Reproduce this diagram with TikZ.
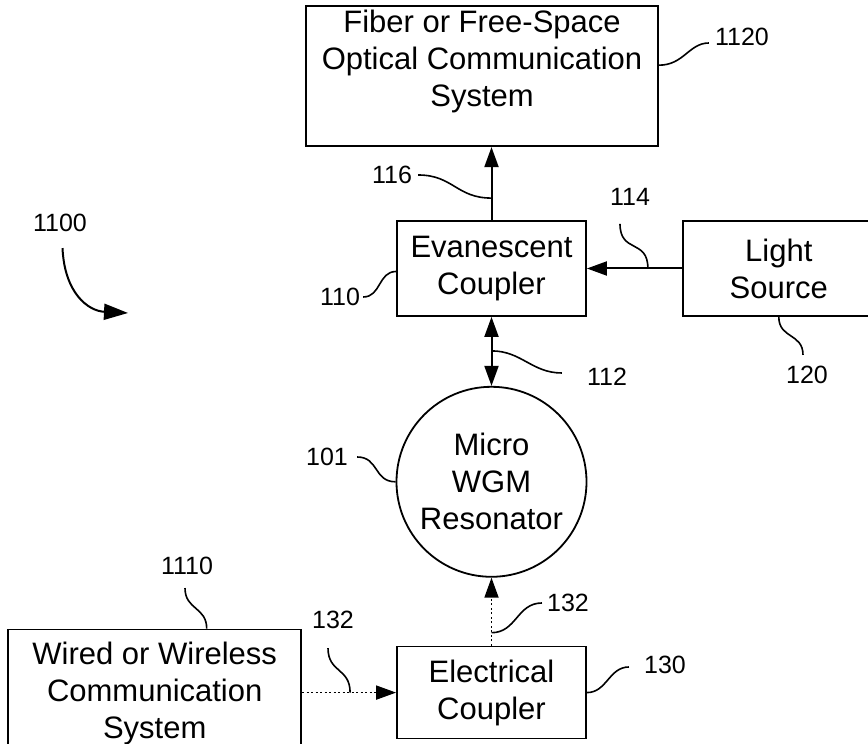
\documentclass[tikz,border=0pt]{standalone}
\usepackage{fontspec}
\setmainfont{Liberation Sans}
\usetikzlibrary{positioning,arrows.meta}

\begin{document}
\begin{tikzpicture}[
    x=1pt, y=1pt,
    node distance=70pt,
    block/.style={
        rectangle,
        draw,
        inner sep=0pt,
        align=center,
        line width=1.8pt,
        font=\fontsize{31pt}{37pt}\selectfont
    },
    resonator/.style={
        circle,
        draw,
        inner sep=0pt,
        minimum size=190pt,
        align=center,
        line width=1.8pt,
        font=\fontsize{31pt}{37pt}\selectfont
    },
    ref/.style={
        inner sep=0pt,
        font=\fontsize{25pt}{30pt}\selectfont
    },
    line/.style={
        draw,
        arrows={-Triangle[length=20pt,width=14pt]},
        line width=2pt
    },
    dual/.style={
        draw,
        arrows={Triangle[length=20pt,width=14pt]-Triangle[length=20pt,width=14pt]},
        line width=2pt
    },
    signal/.style={
        draw,
        arrows={-Triangle[length=20pt,width=14pt]},
        dash pattern=on 2pt off 2.5pt,
        line width=1.8pt
    },
    leader/.style={
        draw,
        line width=1.6pt
    }
]
    \path [use as bounding box, clip] (0,0) rectangle (868,744);

    % Components
    \node [block, minimum width=189pt, minimum height=95pt] (evan) at (491.5,475.5) {Evanescent\\Coupler};
    \node [block, minimum width=352pt, minimum height=140pt, above=73pt of evan, xshift=-9.5pt] (fiber) {};
    \node [block, draw=none] (fibertext) at ([yshift=15pt]fiber.center) {Fiber or Free-Space\\Optical Communication\\System};
    \node [block, minimum width=192pt, minimum height=95pt, right=95pt of evan] (light) {Light\\Source};
    \node [resonator, below=69pt of evan] (res) {Micro\\WGM\\Resonator};
    \node [block, minimum width=189pt, minimum height=92pt, below=68pt of res] (elec) {Electrical\\Coupler};
    \node [block, minimum width=293pt, minimum height=128pt, left=94pt of elec, yshift=-1pt] (wired) {Wired or Wireless\\Communication\\System};

    % Reference numerals
    \node [ref] (l1120) at (742,707) {1120};
    \node [ref] (l116) at (392,569) {116};
    \node [ref] (l114) at (630,547) {114};
    \node [ref] (l110) at (340,447) {110};
    \node [ref] (l112) at (607,367) {112};
    \node [ref] (l101) at (327,287) {101};
    \node [ref] (l120) at (807,369) {120};
    \node [ref] (l1100) at (60,521) {1100};
    \node [ref] (l1110) at (187,178) {1110};
    \node [ref] (l132a) at (568,141) {132};
    \node [ref] (l130) at (665,79) {130};
    \node [ref] (l132b) at (333,124) {132};
    \coordinate (c1100) at (128,431);

    % Optical and electrical paths
    \path [line] (evan.north) -- (evan.north |- fiber.south);
    \path [line] (light.west) -- (evan.east);
    \path [dual] (evan.south) -- (res.north);
    \path [signal] (elec.north) -- (res.south);
    \path [signal] (wired.east |- elec.west) -- (elec.west);

    % Leaders
    \path [leader] ([yshift=11pt]fiber.east) .. controls +(25,0) and +(-20,0) .. ([xshift=-6pt,yshift=-6pt]l1120.west);
    \path [leader] ([xshift=6pt]l116.east) .. controls +(35,0) and +(-35,0) .. ([yshift=22pt]evan.north);
    \path [leader] ([xshift=-10pt,yshift=-18pt]l114.south) .. controls +(0,-30) and +(0,30) .. ([xshift=61pt]evan.east);
    \path [leader] ([xshift=3pt]l110.east) .. controls +(18,0) and +(-18,0) .. ([yshift=-3pt]evan.west);
    \path [leader] ([yshift=-34pt]evan.south) .. controls +(30,0) and +(-30,0) .. ([xshift=-25pt,yshift=4pt]l112.west);
    \path [leader] ([xshift=9pt]l101.east) .. controls +(22,0) and +(-22,0) .. (res.west);
    \path [leader] (light.south) .. controls +(0,-22) and +(0,22) .. ([xshift=-4pt,yshift=11pt]l120.north);
    \path [leader] ([xshift=-2pt,yshift=-13pt]l1110.south) .. controls +(0,-22) and +(0,22) .. ([xshift=52pt]wired.north);
    \path [leader] ([yshift=13pt]elec.north) .. controls +(25,0) and +(-25,0) .. ([xshift=-5pt]l132a.west);
    \path [leader] (elec.east) .. controls +(20,0) and +(-20,0) .. ([xshift=-15pt,yshift=-2pt]l130.west);
    \path [leader] ([xshift=-5pt,yshift=-19pt]l132b.south) .. controls +(0,-25) and +(0,25) .. ([xshift=-46pt]elec.west);
    \path [draw, line width=2pt, arrows={-Triangle[length=24pt,width=16pt]}] ([xshift=2.5pt,yshift=-16pt]l1100.south) .. controls +(2,-45) and +(-40,2) .. (c1100);
\end{tikzpicture}
\end{document}
